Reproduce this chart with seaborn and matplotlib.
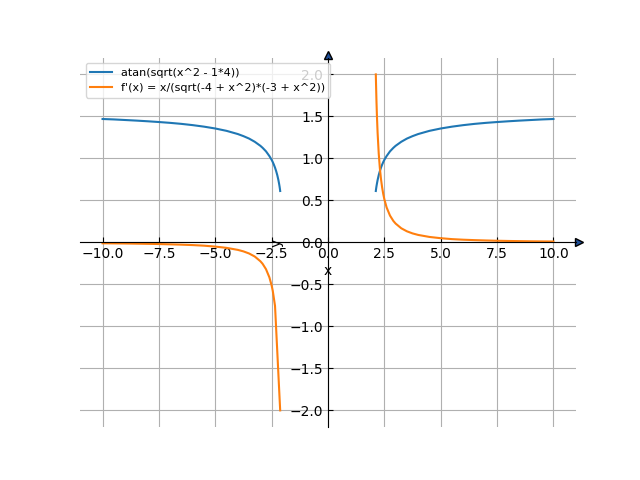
import matplotlib
matplotlib.use("Agg")
import matplotlib.pyplot as plt
import matplotlib.transforms as mtransforms
import seaborn as sns

# atan(sqrt(x^2 - 4)) (right branch)
x_pos = [2.121, 2.13, 2.15, 2.17, 2.2, 2.25, 2.3, 2.35, 2.4, 2.45, 2.5, 2.6, 2.75, 2.9, 3.0,
         3.25, 3.5, 3.75, 4.0, 4.5, 5.0, 5.5, 6.0, 6.5, 7.0, 7.5, 8.0, 8.5, 9.0, 9.5, 10.0]
f_pos = [0.612, 0.632, 0.668, 0.699, 0.742, 0.801, 0.849, 0.890, 0.925, 0.956, 0.983, 1.028, 1.084, 1.126, 1.150,
         1.198, 1.236, 1.265, 1.290, 1.328, 1.356, 1.378, 1.396, 1.411, 1.423, 1.433, 1.442, 1.450, 1.457, 1.464, 1.469]
# left branch
x_neg = [-10.0, -9.5, -9.0, -8.5, -8.0, -7.5, -7.0, -6.5, -6.0, -5.5, -5.0, -4.5, -4.0, -3.75, -3.5, -3.25,
         -3.0, -2.9, -2.75, -2.6, -2.5, -2.45, -2.4, -2.35, -2.3, -2.25, -2.2, -2.17, -2.15, -2.13, -2.121]
f_neg = [1.469, 1.464, 1.457, 1.450, 1.442, 1.433, 1.423, 1.411, 1.396, 1.378, 1.356, 1.328, 1.290, 1.265, 1.236, 1.198,
         1.150, 1.126, 1.084, 1.028, 0.983, 0.956, 0.925, 0.890, 0.849, 0.801, 0.742, 0.699, 0.668, 0.632, 0.612]

# derivative
dx_pos = [2.121, 2.13, 2.15, 2.17, 2.2, 2.25, 2.3, 2.35, 2.4, 2.45, 2.5, 2.6, 2.75, 2.9, 3.0,
          3.25, 3.5, 3.75, 4.0, 4.5, 5.0, 5.5, 6.0, 6.5, 7.0, 7.5, 8.0, 8.5, 9.0, 9.5, 10.0]
d_pos = [2.0, 1.892, 1.679, 1.508, 1.305, 1.058, 0.884, 0.755, 0.656, 0.577, 0.513, 0.416, 0.319, 0.255, 0.224,
         0.168, 0.132, 0.107, 0.089, 0.065, 0.050, 0.039, 0.032, 0.027, 0.023, 0.0195, 0.017, 0.015, 0.013, 0.0117, 0.0105]
dx_neg = [-10.0, -9.5, -9.0, -8.5, -8.0, -7.5, -7.0, -6.5, -6.0, -5.5, -5.0, -4.5, -4.0, -3.75, -3.5, -3.25,
          -3.0, -2.9, -2.75, -2.6, -2.5, -2.45, -2.35, -2.121]
d_neg = [-0.0105, -0.0117, -0.013, -0.015, -0.017, -0.0195, -0.023, -0.027, -0.032, -0.039, -0.050, -0.065, -0.089, -0.107, -0.132, -0.168,
         -0.224, -0.255, -0.319, -0.416, -0.513, -0.577, -0.755, -2.0]

label_f = "atan(sqrt(x^2 - 1*4))"
label_d = "f'(x) = x/(sqrt(-4 + x^2)*(-3 + x^2))"

fig, ax = plt.subplots(figsize=(6.4, 4.8), dpi=100)

sns.lineplot(x=x_neg, y=f_neg, ax=ax, color="C0", sort=False, estimator=None, label=label_f)
sns.lineplot(x=x_pos, y=f_pos, ax=ax, color="C0", sort=False, estimator=None)
sns.lineplot(x=dx_neg, y=d_neg, ax=ax, color="C1", sort=False, estimator=None, label=label_d)
sns.lineplot(x=dx_pos, y=d_pos, ax=ax, color="C1", sort=False, estimator=None)

ax.set_xticks([-10, -7.5, -5, -2.5, 0, 2.5, 5, 7.5, 10])
ax.set_yticks([-2, -1.5, -1, -0.5, 0, 0.5, 1, 1.5, 2])
ax.tick_params(direction="in")

ax.spines["left"].set_position("zero")
ax.spines["bottom"].set_position("zero")
ax.spines["top"].set_visible(False)
ax.spines["right"].set_visible(False)
ax.grid(True)
ax.set_xlabel("x", labelpad=2)
ax.set_ylabel("y")

off_x = mtransforms.ScaledTranslation(3 / 100, 0, fig.dpi_scale_trans)
off_y = mtransforms.ScaledTranslation(0, 3 / 100, fig.dpi_scale_trans)
ax.plot(1, 0, ">", transform=ax.get_yaxis_transform() + off_x, clip_on=False,
        mfc="#1f4f99", mec="k", ms=5.5)
ax.plot(0, 1, "^", transform=ax.get_xaxis_transform() + off_y, clip_on=False,
        mfc="#1f4f99", mec="k", ms=5.5)
ax.set_xlim(-11.0, 11.0)
ax.set_ylim(-2.2, 2.2)

ax.legend(loc="upper left", fontsize=8)

fig.savefig("out.png", dpi=100)
